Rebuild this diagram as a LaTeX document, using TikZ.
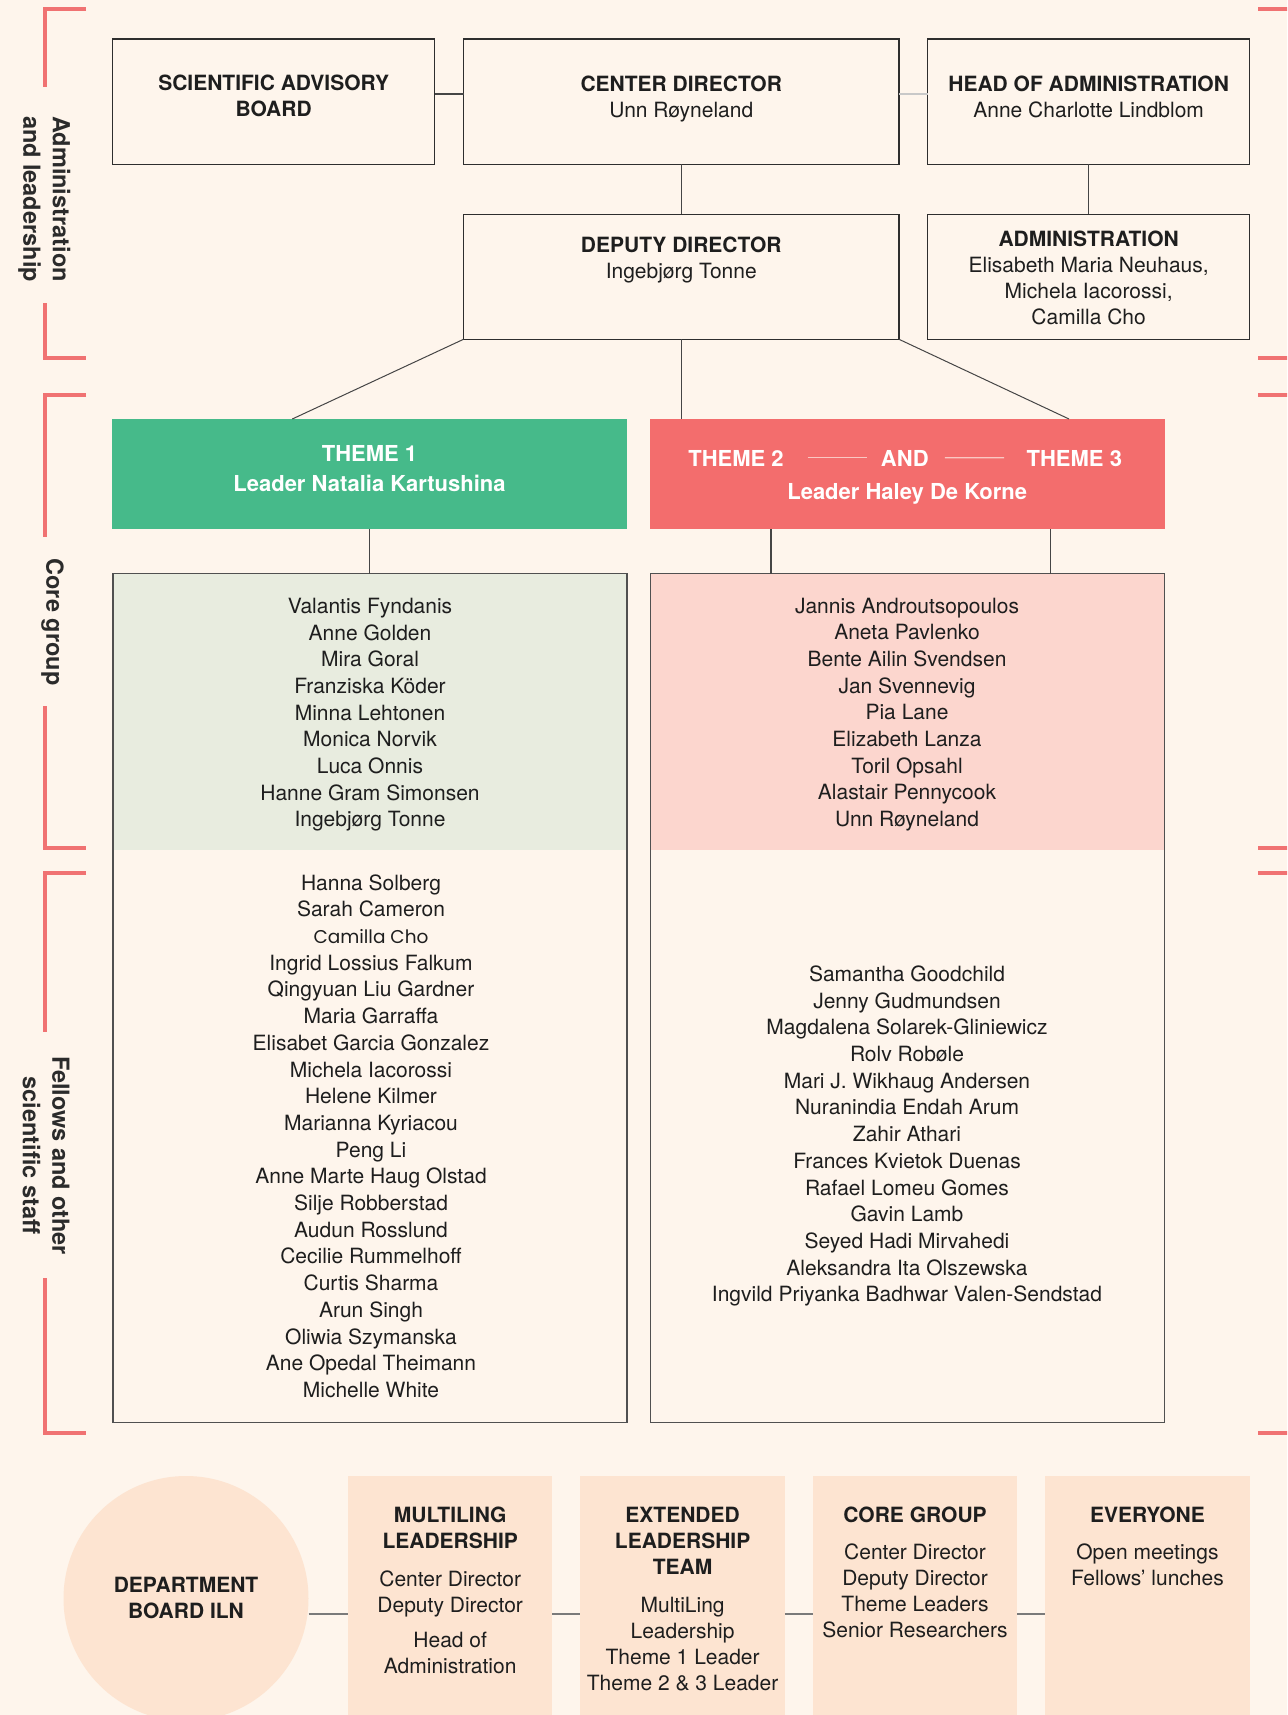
\documentclass[tikz,border=0pt]{standalone}
\usepackage{fontspec}
\setmainfont{TeX Gyre Heros}
\newfontfamily\altfont{Poppins}
\usetikzlibrary{calc}
\definecolor{bg}{HTML}{FEF5EC}
\definecolor{brkc}{HTML}{F07272}
\definecolor{thgreen}{HTML}{46BA8A}
\definecolor{thred}{HTML}{F36D6D}
\definecolor{palegreen}{HTML}{E8ECDF}
\definecolor{palepink}{HTML}{FCD6CE}
\definecolor{peach}{HTML}{FDE4D1}
\definecolor{ink}{HTML}{1E1E1E}
\definecolor{edge}{HTML}{2E2E2E}
\definecolor{edgeb}{HTML}{505050}
\definecolor{linkc}{HTML}{454545}
\definecolor{lightlink}{HTML}{C8C8C8}
\definecolor{botlinkc}{HTML}{7A7A7A}
\definecolor{andc}{HTML}{FAC8C3}
\definecolor{sidec}{HTML}{2B2B2B}
\begin{document}
\begin{tikzpicture}[x=1pt,y=-1pt,
  every node/.style={inner sep=0pt, outer sep=0pt},
  frame/.style={draw=edge, line width=1.2pt, rectangle},
  frameb/.style={draw=edgeb, line width=1.3pt, rectangle},
  link/.style={draw=linkc, line width=1.2pt},
  thinlink/.style={draw=linkc, line width=1pt},
  botlink/.style={draw=botlinkc, line width=2pt},
  andline/.style={draw=andc, line width=1.2pt},
  hdr/.style={align=center, text=ink, font=\fontsize{21}{26}\selectfont, anchor=north},
  names/.style={align=center, text=ink, font=\fontsize{21}{26.7}\selectfont, anchor=north},
  themetxt/.style={align=center, text=white, font=\fontsize{22}{30}\selectfont\bfseries, anchor=north},
  sidelbl/.style={align=center, text=sidec, font=\fontsize{23.5}{29.5}\selectfont\bfseries, rotate=-90},
  brk/.style={draw=brkc, line width=4pt},
  peachbox/.style={fill=peach, rectangle, minimum width=204.4pt, minimum height=276pt},
  ]
\useasboundingbox (0,0) rectangle (1287,1715);
\clip (0,0) rectangle (1287,1715);
\fill[bg] (0,0) rectangle (1287,1715);

% ---------- side brackets ----------
\draw[brk] (86,9) -- (44.7,9) -- (44.7,86.7);
\draw[brk] (44.7,303.3) -- (44.7,357.5) -- (86,357.5);
\draw[brk] (86,395) -- (44.7,395) -- (44.7,536.7);
\draw[brk] (44.7,706) -- (44.7,847.5) -- (86,847.5);
\draw[brk] (86,872.5) -- (44.7,872.5) -- (44.7,1032);
\draw[brk] (44.7,1278) -- (44.7,1433) -- (86,1433);
\foreach \yy in {9,357.5,395,847.5,872.5,1433} \draw[brk] (1258,\yy) -- (1292,\yy);

\node[sidelbl] (lbladmin) at (44.2,199) {Administration\\and leadership};
\node[sidelbl] (lblcore) at (52.5,622) {Core group};
\node[sidelbl] (lblfellows) at (46,1155.5) {Fellows and other\\scientific staff};

% ---------- top boxes ----------
\node[frame, minimum width=321.7pt, minimum height=125.5pt] (sab) at (273.65,101.75) {};
\node[frame, minimum width=435.5pt, minimum height=125.5pt] (cd) at (681.25,101.75) {};
\node[frame, minimum width=321.9pt, minimum height=125.5pt] (hoa) at (1088.65,101.75) {};
\node[frame, minimum width=435.5pt, minimum height=125pt] (dep) at (681.25,276.8) {};
\node[frame, minimum width=321.9pt, minimum height=125pt] (adm) at (1088.65,276.8) {};

\draw[link] ([yshift=7.7pt]sab.east) -- ([yshift=7.7pt]cd.west);
\draw[link, draw=lightlink] ([yshift=7.7pt]cd.east) -- ([yshift=7.7pt]hoa.west);
\draw[link] (cd.south) -- (dep.north);
\draw[link] (hoa.south) -- (adm.north);

\node[hdr] (tsab) at (273.65,75) {\textbf{SCIENTIFIC ADVISORY}\\\textbf{BOARD}};
\node[hdr] (tcd) at (681.25,75.5) {\textbf{CENTER DIRECTOR}\\Unn Røyneland};
\node[hdr] (thoa) at (1088.65,76) {\textbf{HEAD OF ADMINISTRATION}\\Anne Charlotte Lindblom};
\node[hdr] (tdep) at (681.25,237) {\textbf{DEPUTY DIRECTOR}\\Ingebjørg Tonne};
\node[hdr] (tadm) at (1088.65,231) {\textbf{ADMINISTRATION}\\Elisabeth Maria Neuhaus,\\Michela Iacorossi,\\Camilla Cho};

% ---------- themes ----------
\node[fill=thgreen, minimum width=515pt, minimum height=110pt] (th1) at (369.5,474) {};
\node[fill=thred, minimum width=515pt, minimum height=110pt] (th23) at (907.7,474) {};

\draw[thinlink] (dep.south west) -- ([xshift=-77.2pt]th1.north);
\draw[thinlink] (dep.south east) -- ([xshift=161.3pt]th23.north);
\draw[link] (dep.south) -- (dep.south |- th23.north);

\node[themetxt] (tth1) at (369.5,445) {THEME 1\\Leader Natalia Kartushina};
\node[themetxt] (tth2) at (736,450.7) {THEME 2};
\node[themetxt] (tand) at (904.8,450.7) {AND};
\node[themetxt] (tth3) at (1074.3,450.7) {THEME 3};
\draw[andline] ([xshift=24pt,yshift=1pt]tth2.east) -- ([xshift=-13.7pt,yshift=1pt]tand.west);
\draw[andline] ([xshift=16.2pt,yshift=1pt]tand.east) -- ([xshift=-22.4pt,yshift=1pt]tth3.west);
\node[themetxt] (tth23) at (907.2,483) {Leader Haley De Korne};

% ---------- member boxes ----------
\fill[palegreen] (113,573.5) rectangle (627,849.5);
\fill[palepink] (650.3,573.5) rectangle (1164.5,849.5);
\node[frameb, minimum width=514pt, minimum height=849pt] (core1) at (370,998) {};
\node[frameb, minimum width=514.2pt, minimum height=849pt] (core2) at (907.4,998) {};

\draw[link] (th1.south) -- (th1.south |- core1.north);
\coordinate (t2a) at ([xshift=-136.8pt]th23.south);
\coordinate (t2b) at ([xshift=142.8pt]th23.south);
\draw[link] (t2a) -- (t2a |- core2.north);
\draw[link] (t2b) -- (t2b |- core2.north);

\node[names] (ncore1) at (370,598) {Valantis Fyndanis\\Anne Golden\\Mira Goral\\Franziska Köder\\Minna Lehtonen\\Monica Norvik\\Luca Onnis\\Hanne Gram Simonsen\\Ingebjørg Tonne};
\node[names] (ncore2) at (907,597.7) {Jannis Androutsopoulos\\Aneta Pavlenko\\Bente Ailin Svendsen\\Jan Svennevig\\Pia Lane\\Elizabeth Lanza\\Toril Opsahl\\Alastair Pennycook\\Unn Røyneland};
\node[names] (nfel1) at (371,874.4) {Hanna Solberg\\Sarah Cameron\\{\altfont\fontsize{18.5}{26.7}\selectfont Camilla Cho}\\Ingrid Lossius Falkum\\Qingyuan Liu Gardner\\Maria Garraffa\\Elisabet Garcia Gonzalez\\Michela Iacorossi\\Helene Kilmer\\Marianna Kyriacou\\Peng Li\\Anne Marte Haug Olstad\\Silje Robberstad\\Audun Rosslund\\Cecilie Rummelhoff\\Curtis Sharma\\Arun Singh\\Oliwia Szymanska\\Ane Opedal Theimann\\Michelle White};
\node[names] (nfel2) at (907,965.7) {Samantha Goodchild\\Jenny Gudmundsen\\Magdalena Solarek-Gliniewicz\\Rolv Robøle\\Mari J. Wikhaug Andersen\\Nuranindia Endah Arum\\Zahir Athari\\Frances Kvietok Duenas\\Rafael Lomeu Gomes\\Gavin Lamb\\Seyed Hadi Mirvahedi\\Aleksandra Ita Olszewska\\Ingvild Priyanka Badhwar Valen-Sendstad};

% ---------- bottom row ----------
\node[circle, fill=peach, minimum size=245pt] (dept) at (186,1598.5) {};
\node[peachbox] (b1) at (450.2,1614) {};
\node[peachbox] (b2) at (682.6,1614) {};
\node[peachbox] (b3) at (915.0,1614) {};
\node[peachbox] (b4) at (1147.4,1614) {};
\draw[botlink] ([yshift=-15.5pt]dept.east) -- (b1.west);
\draw[botlink] (b1.east) -- (b2.west);
\draw[botlink] (b2.east) -- (b3.west);
\draw[botlink] (b3.east) -- (b4.west);

\node[hdr] (tdept) at (186,1576.7) {\textbf{DEPARTMENT}\\\textbf{BOARD ILN}};
\node[hdr] (tb1) at (450.2,1506.7) {\textbf{MULTILING}\\\textbf{LEADERSHIP}\\[12pt]Center Director\\Deputy Director\\[9pt]Head of\\Administration};
\node[hdr] (tb2) at (682.6,1506.7) {\textbf{EXTENDED}\\\textbf{LEADERSHIP}\\\textbf{TEAM}\\[12.5pt]MultiLing\\Leadership\\Theme 1 Leader\\Theme 2 \& 3 Leader};
\node[hdr] (tb3) at (915.0,1506.7) {\textbf{CORE GROUP}\\[11.3pt]Center Director\\Deputy Director\\Theme Leaders\\Senior Researchers};
\node[hdr] (tb4) at (1147.4,1506.7) {\textbf{EVERYONE}\\[11.3pt]Open meetings\\Fellows\char39\ lunches};
\end{tikzpicture}
\end{document}
